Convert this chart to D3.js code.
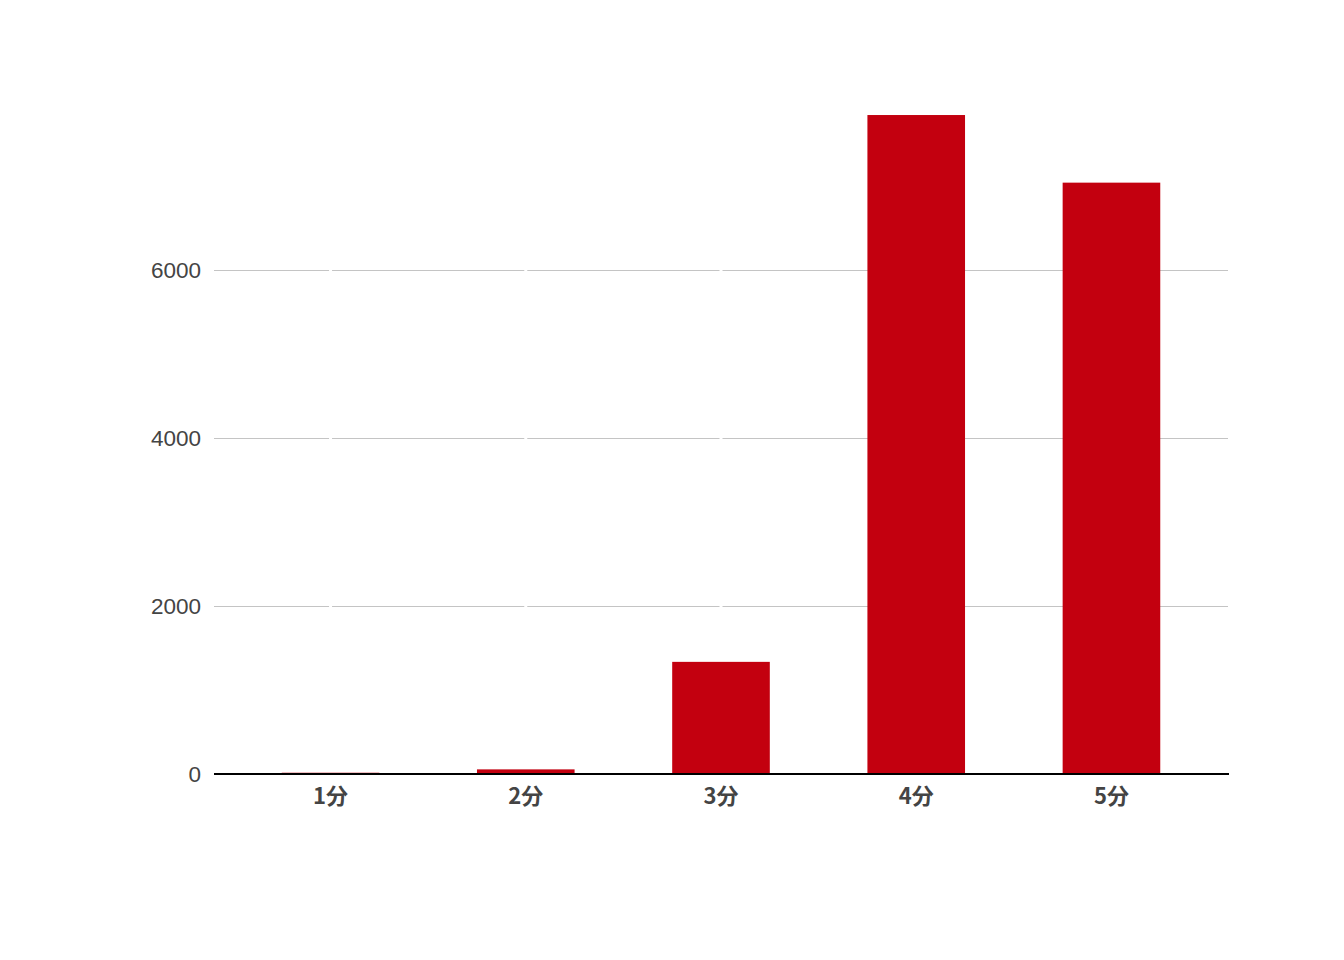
<!DOCTYPE html>
<html>
<head>
<meta charset="utf-8">
<script src="https://cdn.jsdelivr.net/npm/d3@7"></script>
<style>
  body { margin: 0; background: #fff; }
</style>
</head>
<body>
<div id="main"></div>
<script>
var WIDTH = 1344
var HEIGHT = 960

// data
var categories = ["1分", "2分", "3分", "4分", "5分"]
var counts = [15, 55, 1335, 7845, 7040]
var yTicks = [0, 2000, 4000, 6000]

var svg = d3.select('#main').append('svg')
    .attr('width', WIDTH)
    .attr('height', HEIGHT)

var x = d3.scaleBand()
    .domain(categories)
    .range([214, 1228])
    .paddingInner(0.5)
    .paddingOuter(0.347)

// 0 sits at 774, 2000 at 606
var y = d3.scaleLinear()
    .domain([0, 8262])
    .range([774, 80])

// gridlines
svg.append('g')
    .selectAll('line')
    .data(yTicks.filter(d => d > 0))
    .enter()
    .append('line')
    .attr('x1', 214)
    .attr('x2', 1228)
    .attr('y1', d => Math.round(y(d)) + 0.5)
    .attr('y2', d => Math.round(y(d)) + 0.5)
    .attr('stroke', '#c4c4c4')
    .attr('stroke-width', 1.2)

// little white breaks in the gridlines at the category ticks
svg.append('g')
    .selectAll('line')
    .data(categories)
    .enter()
    .append('line')
    .attr('x1', d => x(d) + x.bandwidth() / 2)
    .attr('x2', d => x(d) + x.bandwidth() / 2)
    .attr('y1', 80)
    .attr('y2', 772)
    .attr('stroke', '#fff')
    .attr('stroke-width', 3)

// y axis labels
var yAxis = d3.axisLeft(y).tickValues(yTicks).tickFormat(d3.format('d')).tickSize(0).tickPadding(13)
var gy = svg.append('g')
    .attr('transform', 'translate(214,0)')
    .call(yAxis)
gy.select('.domain').remove()
gy.selectAll('text')
    .attr('font-family', '"Liberation Sans", Arial, sans-serif')
    .attr('font-size', 22.5)
    .attr('fill', '#444')

// bars
svg.append('g')
    .selectAll('rect')
    .data(counts)
    .enter()
    .append('rect')
    .attr('x', (d, i) => x(categories[i]))
    .attr('width', x.bandwidth())
    .attr('y', d => y(d))
    .attr('height', d => y(0) - y(d))
    .attr('fill', '#c3000f')

// x axis
var xAxis = d3.axisBottom(x).tickSize(0).tickPadding(14)
var gx = svg.append('g')
    .attr('transform', 'translate(0,' + y(0) + ')')
    .call(xAxis)
gx.select('.domain').remove()
gx.append('line')
    .attr('x1', 214)
    .attr('x2', 1229)
    .attr('y1', 0)
    .attr('y2', 0)
    .attr('stroke', '#000')
    .attr('stroke-width', 2)
gx.selectAll('text')
    .attr('font-family', '"Noto Sans CJK JP", "Noto Sans", sans-serif')
    .attr('font-weight', 'bold')
    .attr('font-size', 22)
    .attr('fill', '#444')
</script>
</body>
</html>
